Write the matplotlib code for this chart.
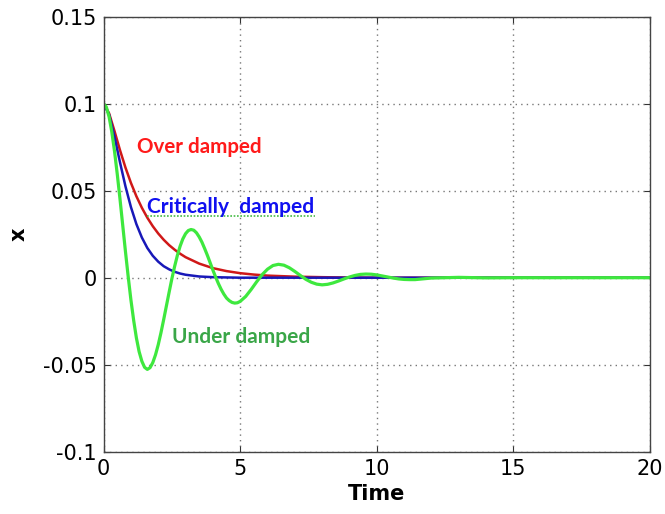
import numpy as np
import matplotlib
matplotlib.use("Agg")
import matplotlib.pyplot as plt

plt.rcParams['font.family'] = ['DejaVu Sans']
plt.rcParams['axes.unicode_minus'] = False

# Curvas (tiempo, posicion)
t_under = [0.0, 0.1, 0.2, 0.3, 0.4, 0.5, 0.6, 0.7, 0.8, 0.9, 1.0, 1.1, 1.2, 1.3, 1.4,
           1.5, 1.6, 1.7, 1.8, 1.9, 2.0, 2.1, 2.2, 2.3, 2.4, 2.5, 2.6, 2.7, 2.8, 2.9,
           3.0, 3.1, 3.2, 3.3, 3.4, 3.5, 3.6, 3.7, 3.8, 3.9, 4.0, 4.1, 4.2, 4.3, 4.4,
           4.5, 4.6, 4.7, 4.8, 4.9, 5.0, 5.2, 5.4, 5.6, 5.8,
           6.0, 6.2, 6.4, 6.6, 6.8, 7.0, 7.2, 7.4, 7.6, 7.8, 8.0, 8.2, 8.4, 8.6, 8.8,
           9.0, 9.2, 9.4, 9.6, 9.8, 10.0, 10.2, 10.4, 10.6, 10.8, 11.0, 11.2, 11.4,
           11.6, 11.8, 12.0, 13.0, 14.0, 15.0, 16.0, 17.0, 18.0, 19.0, 20.0]
x_under = [0.1, 0.0981, 0.0925, 0.0838, 0.0726, 0.0595, 0.0452, 0.0301, 0.0150, 0.0006,
           -0.0128, -0.0245, -0.0346, -0.0425, -0.0480, -0.0515, -0.0527, -0.0517,
           -0.0488, -0.0443, -0.0385, -0.0316, -0.0240, -0.0161, -0.0082, -0.0005,
           0.0065, 0.0128, 0.0181, 0.0223, 0.0253, 0.0271, 0.0277, 0.0273, 0.0258,
           0.0234, 0.0204, 0.0167, 0.0128, 0.0086, 0.0044, 0.0004, -0.0033, -0.0066,
           -0.0094, -0.0117, -0.0132, -0.0142, -0.0146, -0.0144, -0.0136, -0.0108,
           -0.0068, -0.0024, 0.0017, 0.0049, 0.0070, 0.0077, 0.0072, 0.0057, 0.0036,
           0.0013, -0.0009, -0.0026, -0.0037, -0.0041, -0.0038, -0.0030, -0.0019,
           -0.0007, 0.0004, 0.0013, 0.0019, 0.0021, 0.0020, 0.0016, 0.0010, 0.0004,
           -0.0002, -0.0007, -0.0010, -0.0011, -0.0011, -0.0008, -0.0005, -0.0002,
           0.0002, -0.0001, 0.0, 0.0, 0.0, 0.0, 0.0, 0.0]

t_crit = [0.0, 0.2, 0.4, 0.6, 0.8, 1.0, 1.2, 1.4, 1.6, 1.8, 2.0, 2.2, 2.4, 2.6, 2.8,
          3.0, 3.5, 4.0, 5.0, 20.0]
x_crit = [0.1, 0.0938, 0.0809, 0.0663, 0.0525, 0.0406, 0.0308, 0.0231, 0.0171, 0.0126,
          0.0092, 0.0066, 0.0048, 0.0034, 0.0024, 0.0017, 0.0007, 0.0003, 0.0, 0.0]

t_over = [0.0, 0.2, 0.4, 0.6, 0.8, 1.0, 1.2, 1.4, 1.6, 1.8, 2.0, 2.2, 2.4, 2.6, 2.8,
          3.0, 3.5, 4.0, 4.5, 5.0, 5.5, 6.0, 7.0, 8.0, 9.0, 10.0, 20.0]
x_over = [0.1, 0.0945, 0.0842, 0.0733, 0.0633, 0.0545, 0.0468, 0.0402, 0.0345, 0.0296,
          0.0254, 0.0218, 0.0187, 0.0161, 0.0138, 0.0118, 0.0081, 0.0055, 0.0038,
          0.0026, 0.0018, 0.0012, 0.0006, 0.0003, 0.0001, 0.0, 0.0]

xticks = [0, 5, 10, 15, 20]
yticks = [-0.1, -0.05, 0, 0.05, 0.1, 0.15]
ytick_labels = ['-0.1', '-0.05', '0', '0.05', '0.1', '0.15']

fig = plt.figure(figsize=(6.65, 5.14), dpi=100)
ax = fig.add_axes([0.1558, 0.1212, 0.8216, 0.8463])

ax.plot(t_over, x_over, color='#d01818', lw=1.8)
ax.plot(t_crit, x_crit, color='#1818b8', lw=1.8)
ax.plot(t_under, x_under, color='#3ee83e', lw=2.3)

ax.set_xlim(0, 20)
ax.set_ylim(-0.1, 0.15)
ax.set_xticks(xticks)
ax.set_xticklabels([str(v) for v in xticks])
ax.set_yticks(yticks)
ax.set_yticklabels(ytick_labels)
ax.tick_params(direction='in', length=4, labelsize=15, pad=5, colors='#333333',
               labelcolor='black', top=True, right=True)
ax.grid(True, color='#777777', linestyle=(0, (1, 3)), linewidth=1.0)
for s in ax.spines.values():
    s.set_color('#444444')
    s.set_linewidth(1.0)

ax.set_xlabel('Time', fontsize=15, fontweight='bold', labelpad=4)
ax.set_ylabel('x', fontsize=15, fontweight='bold', labelpad=10)

# etiquetas de las curvas
lab_font = ['Lato', 'DejaVu Sans']
ax.text(1.22, 0.0751, 'Over damped', color='#ff1a1a', fontsize=14.8, fontweight='bold',
        family=lab_font, va='center', ha='left')
ax.text(1.59, 0.0405, 'Critically  damped', color='#1010f0', fontsize=15,
        fontweight='bold', family=lab_font, va='center', ha='left')
ax.plot([1.59, 7.74], [0.0352, 0.0352], color='#44bb44', lw=1.2, ls=(0, (1, 1)))
ax.text(2.50, -0.0341, 'Under damped', color='#3aa648', fontsize=15, fontweight='bold',
        family=lab_font, va='center', ha='left')

fig.savefig('out.png', dpi=100)
